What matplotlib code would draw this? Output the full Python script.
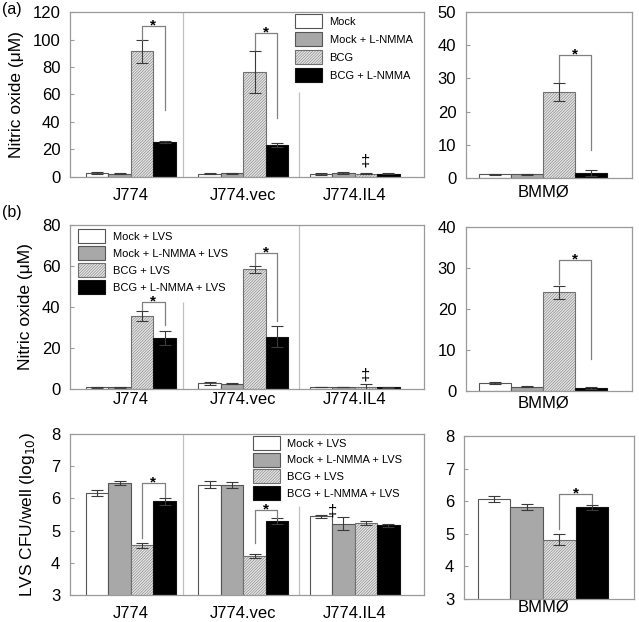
import matplotlib
matplotlib.use('Agg')
import matplotlib.pyplot as plt
import numpy as np

plt.rcParams['font.family'] = ['Liberation Sans', 'DejaVu Sans']
plt.rcParams['hatch.linewidth'] = 0.35

W, H = 639, 622

# ---------------- data ----------------
cell_lines = ['J774', 'J774.vec', 'J774.IL4']
primary = ['BMMØ']
legend_a = ['Mock', 'Mock + L-NMMA', 'BCG', 'BCG + L-NMMA']
legend_b = ['Mock + LVS', 'Mock + L-NMMA + LVS', 'BCG + LVS', 'BCG + L-NMMA + LVS']

# (a) nitric oxide (uM): rows = cell line, cols = treatment
no_a = [[2.9, 2.5, 91.3, 25.5], [2.5, 2.7, 76.3, 23.0], [2.2, 2.9, 2.4, 2.4]]
no_a_err = [[0.6, 0.3, 8.5, 0.8], [0.3, 0.4, 15.0, 1.5], [0.4, 0.4, 0.3, 0.3]]
no_a_bmm = [1.1, 1.1, 25.9, 1.5]
no_a_bmm_err = [0.1, 0.1, 2.6, 1.0]

# (b) nitric oxide (uM) after LVS
no_b = [[0.8, 0.8, 35.6, 24.7], [2.8, 2.5, 58.4, 25.5], [1.0, 1.0, 1.0, 0.8]]
no_b_err = [[0.3, 0.3, 2.6, 3.4], [0.8, 0.3, 1.8, 5.0], [0.1, 0.1, 1.4, 0.3]]
no_b_bmm = [2.0, 1.0, 24.1, 0.8]
no_b_bmm_err = [0.3, 0.1, 1.6, 0.2]

# (b) LVS CFU/well (log10)
cfu = [[6.17, 6.48, 4.54, 5.91], [6.43, 6.41, 4.21, 5.29], [5.45, 5.22, 5.24, 5.16]]
cfu_err = [[0.1, 0.05, 0.07, 0.1], [0.1, 0.1, 0.06, 0.1], [0.05, 0.2, 0.06, 0.04]]
cfu_bmm = [6.07, 5.82, 4.82, 5.81]
cfu_bmm_err = [0.08, 0.1, 0.16, 0.08]

# significance brackets: (group, left-leg start, bracket top, right-leg end)
sig_a = [(0, 100, 110, 49), (1, 92.5, 104.7, 42.7)]
sig_a_bmm = [(0, 29, 37, 8.3)]
sig_b = [(0, 38.6, 42.5, 31), (1, 60.6, 66.3, 33.4)]
sig_b_bmm = [(0, 26, 31.9, 7.7)]
sig_c = [(0, 4.78, 6.48, 6.05), (1, 4.62, 5.65, 5.4)]
sig_c_bmm = [(0, 5.16, 6.21, 5.9)]

# double-dagger marks: (group, bar offset, y)
dag_a = [(2, 0.5, 11.6)]
dag_b = [(2, 0.5, 6.8)]
dag_c = [(2, -1.0, 5.62)]

# ---------------- style ----------------
fills = ['white', '#a8a8a8', '#e4e4e4', 'black']
edges = ['#555555', '#555555', '#707070', '#111111']
hatches = [None, None, '////////////', None]
offs = np.array([-1.5, -0.5, 0.5, 1.5])
SP = '#9a9a9a'
DIV = '#c0c0c0'

fig = plt.figure(figsize=(W / 100, H / 100), dpi=100)


def add_ax(x0, y0, x1, y1):
    return fig.add_axes([x0 / W, 1 - y1 / H, (x1 - x0) / W, (y1 - y0) / H])


def style(ax, ylim, yticks, xpad):
    ax.set_ylim(*ylim)
    ax.set_yticks(yticks)
    for s in ax.spines.values():
        s.set_color(SP)
        s.set_linewidth(0.9)
    ax.tick_params(axis='y', direction='in', length=3, color=SP, labelsize=12, pad=7)
    ax.tick_params(axis='x', length=0, labelsize=12, pad=xpad)


def draw(ax, data, err, centers, width, labels):
    for j in range(4):
        ax.bar(centers + offs[j] * width, [r[j] for r in data], width,
               yerr=[e[j] for e in err], color=fills[j], edgecolor=edges[j],
               hatch=hatches[j], linewidth=0.8, label=labels[j],
               error_kw=dict(ecolor='#3a3a3a', elinewidth=0.8, capsize=4, capthick=0.8))


def brackets(ax, sigs, centers, width):
    for g, y0, yt, y1 in sigs:
        xl = centers[g] + offs[2] * width
        xr = centers[g] + offs[3] * width
        ax.plot([xl, xl, xr, xr], [y0, yt, yt, y1], color='#808080', lw=0.9)
        ax.annotate('*', xy=((xl + xr) / 2, yt), xytext=(0, -2.6),
                    textcoords='offset points', ha='center', va='baseline',
                    fontsize=11, fontweight='bold', zorder=10)


def daggers(ax, dags, centers, width):
    for g, o, y in dags:
        ax.text(centers[g] + o * width, y, '‡', ha='center', va='center', fontsize=12)


def legend(ax, x, y, ls):
    ax.legend(loc='upper left', bbox_to_anchor=(x, y), frameon=False, fontsize=8,
              handlelength=2.4, handleheight=1.55, labelspacing=ls,
              handletextpad=0.7, borderpad=0, borderaxespad=0)


cl_centers = np.array([0.55, 1.52, 2.48])
cl_w = 0.194
pm_centers = np.array([0.465])
pm_w = 0.192

# ---- (a) left ----
ax = add_ax(70, 12, 424, 177)
draw(ax, no_a, no_a_err, cl_centers, cl_w, legend_a)
ax.set_xlim(0.026, 3.078)
style(ax, (0, 120), range(0, 121, 20), 8)
ax.axvline(1, color=DIV, lw=0.9)
ax.vlines(2, 0, 62, color=DIV, lw=0.9)
brackets(ax, sig_a, cl_centers, cl_w)
daggers(ax, dag_a, cl_centers, cl_w)
ax.set_xticks(cl_centers)
ax.set_xticklabels(cell_lines)
ax.set_ylabel('Nitric oxide (μM)', fontsize=12.5, labelpad=6)
legend(ax, 0.636, 0.985, 0.36)

# ---- (a) right ----
ax = add_ax(466, 12, 632, 178)
draw(ax, [no_a_bmm], [no_a_bmm_err], pm_centers, pm_w, legend_a)
ax.set_xlim(0, 1)
style(ax, (0, 50), range(0, 51, 10), 5)
brackets(ax, sig_a_bmm, pm_centers, pm_w)
ax.set_xticks(pm_centers)
ax.set_xticklabels(primary)

# ---- (b) top left ----
ax = add_ax(70, 225, 424, 389)
draw(ax, no_b, no_b_err, cl_centers, cl_w, legend_b)
ax.set_xlim(0.026, 3.078)
style(ax, (0, 80), range(0, 81, 20), 2.5)
ax.vlines(1, 0, 42.4, color=DIV, lw=0.9)
ax.axvline(2, color=DIV, lw=0.9)
brackets(ax, sig_b, cl_centers, cl_w)
daggers(ax, dag_b, cl_centers, cl_w)
ax.set_xticks(cl_centers)
ax.set_xticklabels(cell_lines)
ax.set_ylabel('Nitric oxide (μM)', fontsize=12.5, labelpad=6)
legend(ax, 0.023, 0.976, 0.28)

# ---- (b) top right ----
ax = add_ax(466, 227, 632, 391)
draw(ax, [no_b_bmm], [no_b_bmm_err], pm_centers, pm_w, legend_b)
ax.set_xlim(0, 1)
style(ax, (0, 40), range(0, 41, 10), 3)
brackets(ax, sig_b_bmm, pm_centers, pm_w)
ax.set_xticks(pm_centers)
ax.set_xticklabels(primary)

# ---- (b) bottom left ----
ax = add_ax(70, 434, 424, 595)
draw(ax, cfu, cfu_err, cl_centers, cl_w, legend_b)
ax.set_xlim(0.026, 3.078)
style(ax, (3, 8), range(3, 9), 8)
ax.axvline(1, color=DIV, lw=0.9)
ax.vlines(2, 3, 5.75, color=DIV, lw=0.9)
brackets(ax, sig_c, cl_centers, cl_w)
daggers(ax, dag_c, cl_centers, cl_w)
ax.set_xticks(cl_centers)
ax.set_xticklabels(cell_lines)
ax.set_ylabel('LVS CFU/well (log$_{10}$)', fontsize=12.5, labelpad=10)
legend(ax, 0.517, 0.988, 0.25)

# ---- (b) bottom right ----
ax = add_ax(464, 436, 634, 599)
draw(ax, [cfu_bmm], [cfu_bmm_err], pm_centers, pm_w, legend_b)
ax.set_xlim(0, 1)
style(ax, (3, 8), range(3, 9), 0.5)
brackets(ax, sig_c_bmm, pm_centers, pm_w)
ax.set_xticks(pm_centers)
ax.set_xticklabels(primary)

fig.text(2 / W, 1 - 2 / H, '(a)', fontsize=11.5, va='top', ha='left')
fig.text(2 / W, 1 - 205 / H, '(b)', fontsize=11.5, va='top', ha='left')

fig.savefig('out.png', dpi=100)
